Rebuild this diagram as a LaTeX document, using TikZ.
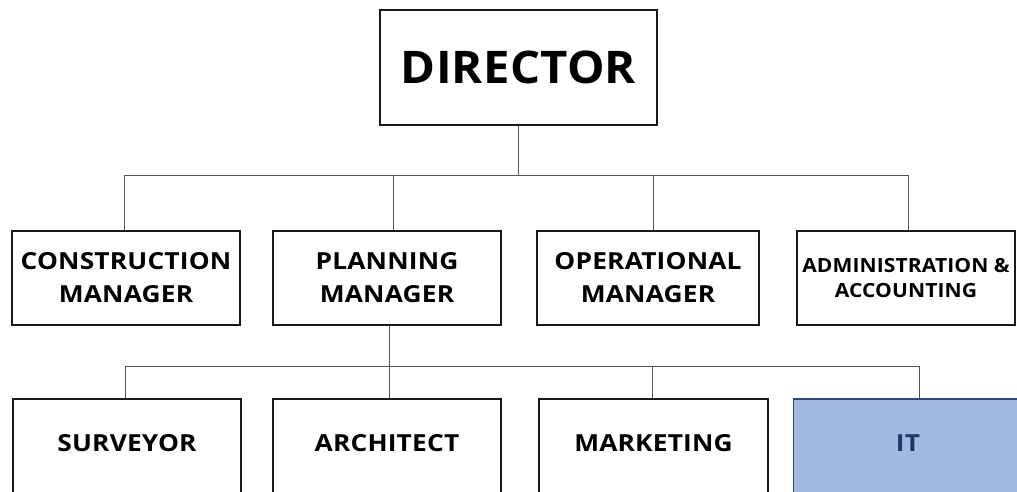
\documentclass[tikz,border=0pt]{standalone}
\usepackage{fontspec}
\setmainfont{Open Sans}
\newfontfamily\rowfont{Open Sans}[FakeStretch=1.12,LetterSpace=0.8]
\newfontfamily\dirfont{Open Sans}[FakeStretch=1.05,LetterSpace=0.5]
\newfontfamily\admfont{Open Sans}[FakeStretch=1.08,LetterSpace=0.5]
\definecolor{itfill}{HTML}{A4B9E0}
\definecolor{itdraw}{HTML}{2E4A7D}
\definecolor{ittext}{HTML}{1F3864}
\definecolor{conn}{HTML}{555555}
\begin{document}
\begin{tikzpicture}[x=1pt,y=-1pt,
  box/.style={draw=black!90, line width=1.7pt, fill=white, align=center, inner sep=0pt, font=\rowfont\bfseries\fontsize{23.5}{33}\selectfont},
  lowbox/.style={box, minimum height=100pt, text depth=12pt},
  conline/.style={draw=conn, line width=0.8pt}]
\useasboundingbox (0,0) rectangle (1017,491);
\begin{scope}
\clip (0,0) rectangle (1017,491);
% Director
\node[box, minimum width=277pt, minimum height=115pt, font=\dirfont\bfseries\fontsize{45}{50}\selectfont] (dir) at (518.5,67.5) {DIRECTOR};
% second row
\node[box, minimum width=228pt, minimum height=94pt] (cons) at (126,278) {CONSTRUCTION\\MANAGER};
\node[box, minimum width=228pt, minimum height=94pt] (plan) at (387,278) {PLANNING\\MANAGER};
\node[box, minimum width=222pt, minimum height=94pt] (oper) at (648,278) {OPERATIONAL\\MANAGER};
\node[box, minimum width=218pt, minimum height=94pt, font=\admfont\bfseries\fontsize{19.5}{25}\selectfont] (admin) at (906,278) {ADMINISTRATION \&\\ACCOUNTING};
% third row
\node[lowbox, minimum width=228pt] (surv) at (127,449) {SURVEYOR};
\node[lowbox, minimum width=228pt] (arch) at (387,449) {ARCHITECT};
\node[lowbox, minimum width=229pt] (mark) at (653.5,449) {MARKETING};
\node[lowbox, minimum width=229pt, fill=itfill, draw=itdraw, text=ittext] (it) at (908,449) {IT};
% connectors
\coordinate (bus1) at (518.5,175);
\coordinate (bus2) at (389,366);
\draw[conline] (dir.south) -- (bus1);
\draw[conline] (bus1) -| ([xshift=-2pt]cons.north);
\draw[conline] (bus1) -| ([xshift=6pt]plan.north);
\draw[conline] (bus1) -| ([xshift=5pt]oper.north);
\draw[conline] (bus1) -| ([xshift=2pt]admin.north);
\draw[conline] ([xshift=2pt]plan.south) -- (bus2);
\draw[conline] (bus2) -| ([xshift=-2pt]surv.north);
\draw[conline] (bus2) -- ([xshift=2pt]arch.north);
\draw[conline] (bus2) -| ([xshift=-1.5pt]mark.north);
\draw[conline] (bus2) -| ([xshift=11pt]it.north);
\end{scope}
\end{tikzpicture}
\end{document}
